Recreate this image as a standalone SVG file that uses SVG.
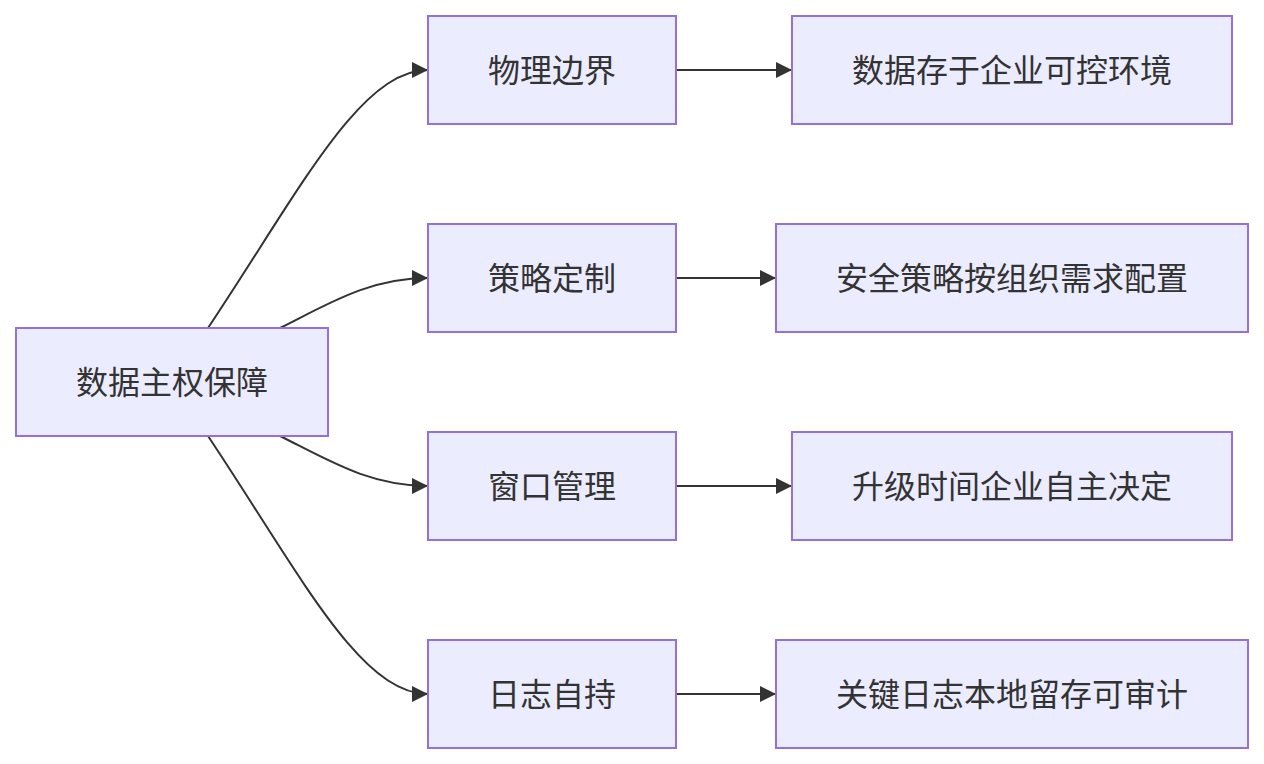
<svg xmlns="http://www.w3.org/2000/svg" width="1264" height="764" viewBox="0 0 1264 764">
<style>
.node rect{fill:#ECECFF;stroke:#9370DB;stroke-width:2}
.node text{font-family:"Noto Sans CJK SC","Noto Sans",sans-serif;font-size:32px;fill:#333333;text-anchor:middle;dominant-baseline:central}
.edges path{fill:none;stroke:#333333;stroke-width:2;marker-end:url(#arrow)}
</style>
<defs>
<marker id="arrow" markerUnits="userSpaceOnUse" markerWidth="16" markerHeight="16" refX="16" refY="8" orient="auto">
<path d="M0,0 L16,8 L0,16 z" fill="#333333"/>
</marker>
</defs>
<rect width="1264" height="764" fill="#ffffff"/>
<g class="edges">
<path d="M208,328 C300,190 360,70 428,70"/>
<path d="M280,328 C330,303 370,278 428,278"/>
<path d="M280,436 C330,461 370,486 428,486"/>
<path d="M208,436 C300,574 360,694 428,694"/>
<path d="M677,70 L792,70"/>
<path d="M677,278 L776,278"/>
<path d="M677,486 L792,486"/>
<path d="M677,694 L776,694"/>
</g>
<g id="root" class="node"><rect x="16" y="328" width="312" height="108"/><text x="172" y="380">数据主权保障</text></g>
<g id="n1" class="node"><rect x="428" y="16" width="248" height="108"/><text x="552" y="68">物理边界</text></g>
<g id="n2" class="node"><rect x="428" y="224" width="248" height="108"/><text x="552" y="276">策略定制</text></g>
<g id="n3" class="node"><rect x="428" y="432" width="248" height="108"/><text x="552" y="484">窗口管理</text></g>
<g id="n4" class="node"><rect x="428" y="640" width="248" height="108"/><text x="552" y="692">日志自持</text></g>
<g id="r1" class="node"><rect x="792" y="16" width="440" height="108"/><text x="1012" y="68">数据存于企业可控环境</text></g>
<g id="r2" class="node"><rect x="776" y="224" width="472" height="108"/><text x="1012" y="276">安全策略按组织需求配置</text></g>
<g id="r3" class="node"><rect x="792" y="432" width="440" height="108"/><text x="1012" y="484">升级时间企业自主决定</text></g>
<g id="r4" class="node"><rect x="776" y="640" width="472" height="108"/><text x="1012" y="692">关键日志本地留存可审计</text></g>
</svg>
